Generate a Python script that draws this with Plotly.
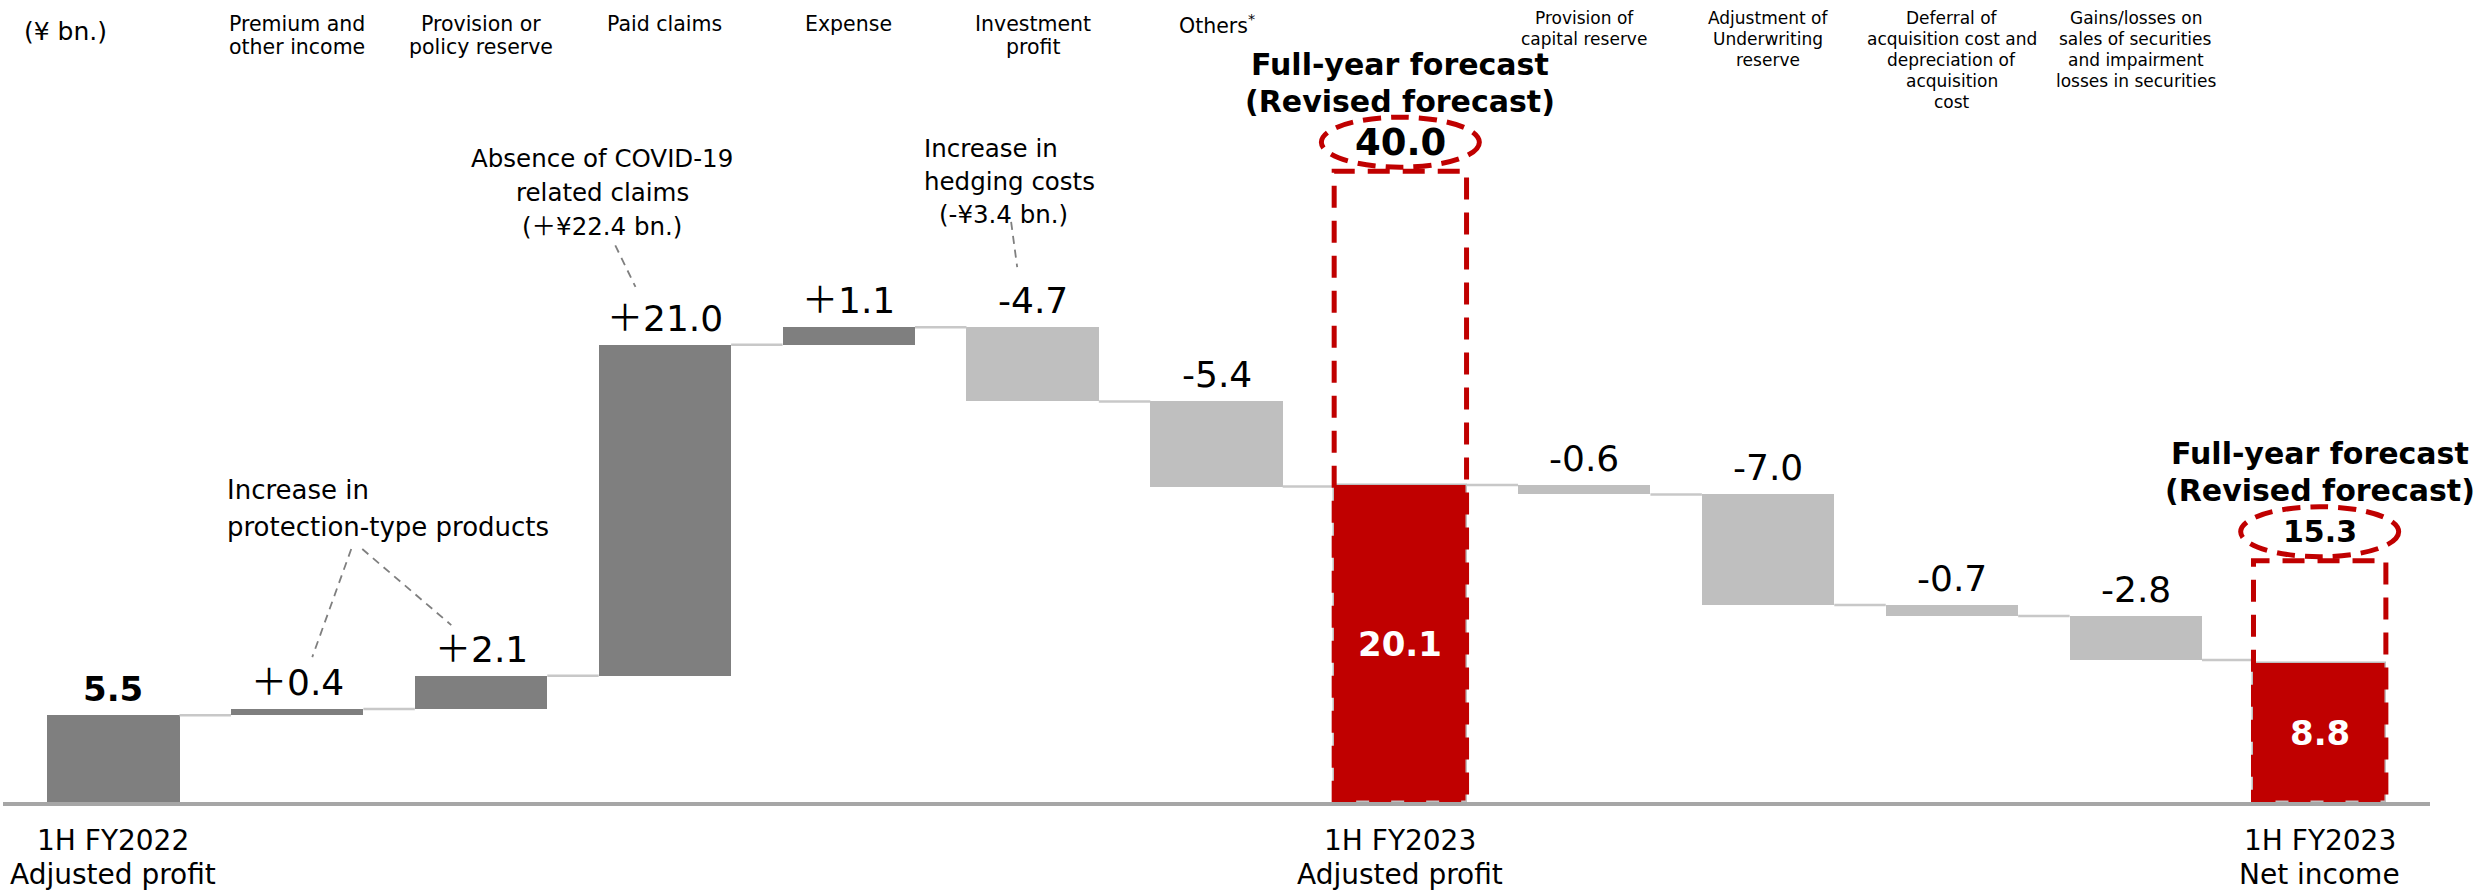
import plotly.graph_objects as go

# ---- data -------------------------------------------------------------
steps = [
    "1H FY2022 Adjusted profit", "Premium and other income", "Provision or policy reserve",
    "Paid claims", "Expense", "Investment profit", "Others",
    "1H FY2023 Adjusted profit", "Provision of capital reserve",
    "Adjustment of Underwriting reserve", "Deferral of acquisition cost",
    "Gains/losses on securities", "1H FY2023 Net income",
]
values = [5.5, 0.4, 2.1, 21.0, 1.1, -4.7, -5.4, 20.1, -0.6, -7.0, -0.7, -2.8, 8.8]
measures = ["absolute", "relative", "relative", "relative", "relative", "relative", "relative",
            "total", "relative", "relative", "relative", "relative", "total"]

header_lines = {
    1: ["Premium and", "other income"],
    2: ["Provision or", "policy reserve"],
    3: ["Paid claims"],
    4: ["Expense"],
    5: ["Investment", "profit"],
    6: ["Others<sup>*</sup>"],
    8: ["Provision of", "capital reserve"],
    9: ["Adjustment of", "Underwriting", "reserve"],
    10: ["Deferral of", "acquisition cost and", "depreciation of", "acquisition", "cost"],
    11: ["Gains/losses on", "sales of securities", "and impairment", "losses in securities"],
}
bottom_lines = {
    0: ["1H FY2022", "Adjusted profit"],
    7: ["1H FY2023", "Adjusted profit"],
    12: ["1H FY2023", "Net income"],
}
forecast_idx = [7, 12]
forecast_values = [40.0, 15.3]

# ---- styling ----------------------------------------------------------
FONT = "DejaVu Sans, Noto Sans CJK JP, sans-serif"
UP_COLOR = "#7F7F7F"
DOWN_COLOR = "#BFBFBF"
TOTAL_COLOR = "#C00000"
BAR_W = 0.72
PLOT_H = 802  # px of the plotting area (top margin 0)
SCALE = 15.77  # px per unit on the value axis

# ---- floating bar geometry from the running total ---------------------
bases, heights, colors, tops = [], [], [], []
ends = []
running = 0.0
for v, m in zip(values, measures):
    if m == "relative":
        bases.append(running)
        heights.append(v)
        colors.append(UP_COLOR if v >= 0 else DOWN_COLOR)
        tops.append(max(running, running + v))
        running += v
    else:
        bases.append(0.0)
        heights.append(v)
        colors.append(TOTAL_COLOR if m == "total" else UP_COLOR)
        tops.append(v)
        running = v
    ends.append(running)

xs = list(range(len(values)))

fig = go.Figure()

# connectors between consecutive bars
cx, cy = [], []
for i in range(len(values) - 1):
    cx += [i + BAR_W / 2, i + 1 - BAR_W / 2, None]
    cy += [ends[i], ends[i], None]
fig.add_trace(go.Scatter(x=cx, y=cy, mode="lines",
                         line=dict(color="#C8C8C8", width=2.5),
                         hoverinfo="skip", showlegend=False))

fig.add_trace(go.Bar(
    x=xs, y=heights, base=bases, width=BAR_W,
    marker=dict(color=colors,
                line=dict(color=["#BFBFBF" if m == "total" else "rgba(0,0,0,0)" for m in measures],
                          width=[1.5 if m == "total" else 0 for m in measures])),
    showlegend=False, hoverinfo="skip",
))

annotations = []
shapes = []


def add_text(text, x, y, size, xref="x", yref="y", bold=False, color="#000000",
             xanchor="center", yanchor="middle", yshift=0, xshift=0):
    annotations.append(dict(
        text=f"<b>{text}</b>" if bold else text, x=x, y=y, xref=xref, yref=yref,
        showarrow=False, xanchor=xanchor, yanchor=yanchor, yshift=yshift, xshift=xshift,
        font=dict(family=FONT, size=size, color=color),
    ))


# value labels above the moving bars
for i, (v, m) in enumerate(zip(values, measures)):
    if m == "relative":
        label = f"＋{v:.1f}" if v > 0 else f"-{abs(v):.1f}"
        add_text(label, i, tops[i], 36, yanchor="bottom", yshift=4)
    elif m == "absolute":
        add_text(f"{v:.1f}", i, tops[i], 34, bold=True, yanchor="bottom", yshift=4)
    else:
        add_text(f"{v:.1f}", i, v / 2, 34, bold=True, color="#FFFFFF")

# unit label
add_text("(¥ bn.)", -0.26, 1 - 32 / PLOT_H, 25, yref="paper")

# column headers: left block slightly larger than the right block
for i, lines in header_lines.items():
    if i < 7:
        top, step, size = 24, 23, 20.5
    else:
        top, step, size = 18, 21, 17
    for k, line in enumerate(lines):
        add_text(line, i, 1 - (top + step * k) / PLOT_H, size, yref="paper")

# labels under the total bars
for i, lines in bottom_lines.items():
    for k, line in enumerate(lines):
        add_text(line, i, -(840 - PLOT_H + 34 * k) / PLOT_H, 28, yref="paper")

# full-year forecast frames
for i, fc in zip(forecast_idx, forecast_values):
    shapes.append(dict(type="rect", xref="x", yref="y",
                       x0=i - BAR_W / 2, x1=i + BAR_W / 2, y0=0, y1=fc,
                       line=dict(color=TOTAL_COLOR, width=5, dash="22px,13px"),
                       fillcolor="rgba(0,0,0,0)", layer="above"))
    shapes.append(dict(type="circle", xref="x", yref="y",
                       xsizemode="pixel", ysizemode="pixel",
                       xanchor=i, yanchor=fc, x0=-79, x1=79, y0=4, y1=54,
                       line=dict(color=TOTAL_COLOR, width=5, dash="18px,10px"),
                       fillcolor="rgba(0,0,0,0)", layer="above"))
    add_text(f"{fc:.1f}", i, fc, 37 if fc >= 20 else 30, bold=True, yshift=29)
    add_text("(Revised forecast)", i, fc, 30, bold=True, yshift=70)
    add_text("Full-year forecast", i, fc, 30, bold=True, yshift=107)

# callouts
for k, line in enumerate(["Increase in", "protection-type products"]):
    add_text(line, 0.609, (PLOT_H - (490 + 37 * k)) / SCALE, 26, xanchor="left")
for k, line in enumerate(["Absence of COVID-19", "related claims", "(＋¥22.4 bn.)"]):
    add_text(line, 2.66, (PLOT_H - (158 + 34 * k)) / SCALE, 24.5)
for k, line in enumerate(["Increase in", "hedging costs", "(-¥3.4 bn.)"]):
    add_text(line, 4.40 if k < 2 else 4.48, (PLOT_H - (148 + 33 * k)) / SCALE, 24.5,
             xanchor="left")

leaders = [
    ((1.294, 16.04), (1.082, 9.19)),
    ((1.354, 16.04), (1.838, 11.22)),
    ((2.73, 35.3), (2.84, 32.66)),
    ((4.883, 36.78), (4.916, 33.92)),
]
for (x0, y0), (x1, y1) in leaders:
    shapes.append(dict(type="line", xref="x", yref="y", x0=x0, y0=y0, x1=x1, y1=y1,
                       line=dict(color="#7F7F7F", width=1.8, dash="8px,6px")))

fig.update_layout(
    width=2481, height=890,
    margin=dict(l=3, r=51, t=0, b=890 - PLOT_H, pad=0),
    paper_bgcolor="#FFFFFF", plot_bgcolor="#FFFFFF",
    bargap=0, showlegend=False,
    xaxis=dict(range=[-0.6, 12.6], showticklabels=False, showgrid=False, zeroline=False,
               showline=True, linecolor="#A6A6A6", linewidth=4, ticks=""),
    yaxis=dict(range=[0, PLOT_H / SCALE], visible=False, showgrid=False, zeroline=False),
    annotations=annotations, shapes=shapes,
)

fig.write_html("out.html")
